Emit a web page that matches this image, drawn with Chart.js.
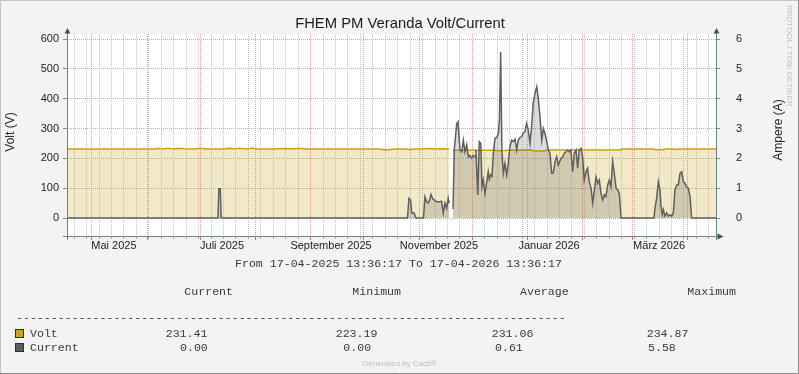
<!DOCTYPE html>
<html>
<head>
<meta charset="utf-8">
<title>FHEM PM Veranda Volt/Current</title>
<script src="https://cdn.jsdelivr.net/npm/chart.js@4.4.1/dist/chart.umd.min.js"></script>
<style>
  html, body { margin: 0; padding: 0; background: #f3f3f3; }
  canvas { display: block; }
</style>
</head>
<body>
<canvas id="myChart" width="799" height="374"></canvas>
<script>
// X values are days since 17-04-2025 13:36:17 (graph spans 365 days)
const monthStartDays = [14, 45, 75, 106, 137, 167, 198, 228, 259, 290, 318, 349]
const labelDays = [26.4, 87.2, 148.5, 209.2, 271.1, 333.0]
const labelNames = ['Mai 2025', 'Juli 2025', 'September 2025', 'November 2025', 'Januar 2026', 'März 2026']
const voltTicks = [0, 100, 200, 300, 400, 500, 600]
const ampTicks = [0, 1, 2, 3, 4, 5, 6]

// Current (A)
const currentDays = [
  0, 84.9, 85.4, 86.2, 86.7, 191.5, 192.3, 193.2, 193.9, 195.2,
  196.3, 200.5, 201.3, 202.2, 203.0, 203.9, 204.7, 205.8, 206.7, 207.4,
  208.7, 209.8, 210.7, 211.6, 212.6, 213.5, 214.4, 215.0, 216, 217.1,
  217.8, 219.2, 219.9, 221.0, 222.0, 222.9, 223.8, 224.8, 225.7, 226.6,
  227.6, 228.5, 229.5, 230.0, 231.0, 231.9, 232.7, 233.4, 234.1, 235.1,
  236.0, 236.9, 237.5, 238.3, 239.0, 239.8, 240.7, 241.7, 242.6, 243.2,
  243.9, 244.6, 245.4, 246.3, 247.3, 248.2, 249.1, 250.1, 251.0, 252.0,
  252.9, 253.8, 254.8, 255.7, 256.6, 257.6, 258.5, 259.4, 260.4, 261.3,
  262.2, 263.2, 264.2, 265.1, 266.0, 267.0, 267.9, 268.8, 269.8, 270.7,
  271.6, 272.6, 273.5, 274.5, 275.4, 276.3, 277.8, 278.8, 279.7, 280.6,
  281.6, 282.5, 283.4, 284.4, 285.3, 286.3, 287.2, 288.1, 289.1, 290.0,
  290.9, 291.9, 292.8, 293.7, 294.7, 295.7, 296.6, 297.5, 298.5, 299.4,
  300.3, 301.3, 302.2, 303.1, 304.1, 305.0, 305.9, 306.9, 307.8, 308.8,
  309.7, 310.6, 311.6, 330.1, 330.7, 331.6, 332.6, 333.5, 334.1, 334.8,
  335.4, 336.3, 337.3, 338.2, 339.1, 340.1, 341.0, 341.9, 342.9, 343.8,
  344.8, 345.7, 346.6, 347.6, 348.5, 349.4, 350.4, 351.3, 365
]
const currentAmps = [
  0, 0, 0.98, 0.98, 0, 0, 0.66, 0.6, 0.17, 0.17,
  0, 0, 0.71, 0.55, 0.5, 0.6, 0.79, 0.63, 0.6, 0.56,
  0.54, 0.55, 0.56, 0.17, 0.5, 0.33, 0.66, 0.5, null, 0.3,
  2.28, 3.17, 3.23, 2.28, 2.22, 2.61, 2.22, 2.45, 2.05, 2.1,
  2.0, 2.1, 2.05, 2.28, 0.77, 2.56, 2.5, 1.05, 1.27, 0.83,
  1.17, 1.55, 1.3, 1.45, 1.4, 2.17, 2.67, 2.7, 2.84, 3.3,
  5.56, 2.22, 1.5, 1.83, 1.44, 1.83, 2.39, 2.61, 2.56, 2.64,
  2.28, 2.61, 2.7, 2.73, 2.84, 2.9, 3.17, 2.95, 2.5, 3.06,
  3.85, 4.18, 4.4, 3.96, 3.4, 2.61, 3.0, 2.84, 2.56, 2.28,
  2.17, 1.5, 1.52, 1.89, 2.05, 1.78, 2.0, 2.05, 2.17, 2.22,
  2.28, 2.22, 2.28, 1.55, 2.17, 2.28, 1.67, 2.28, 2.33, 2.05,
  1.27, 1.55, 1.67, 1.22, 1.0, 0.49, 0.94, 1.38, 1.16, 1.27,
  0.83, 0.61, 0.78, 0.72, 1.11, 1.27, 1.05, 1.89, 1.5, 1.0,
  0.94, 0.83, 0, 0, 0.33, 0.66, 1.22, 0.94, 0.39, 0.11,
  0.28, 0.06, 0.17, 0.06, 0.11, 0.06, 0.17, 0.94, 1.11, 1.11,
  1.5, 1.55, 1.22, 1.16, 1.05, 1.0, 0.72, 0, 0
]

// Volt (V)
const voltDays = [
  0, 50, 52, 54, 57, 60, 63, 66, 72, 75,
  79, 88, 91, 94, 97, 100, 104, 108, 116, 123,
  126, 131, 134, 146, 175, 178, 181, 184, 190, 193,
  196, 200, 204, 208, 212, 215, 216, 217.1, 240, 244,
  248, 261, 263, 268, 270, 311, 312, 330, 331, 335,
  336, 341, 342, 343, 365
]
const voltValues = [
  231.4, 231.2, 233.5, 231.4, 233.8, 231.5, 233.6, 232.0, 231.3, 233.9,
  231.5, 231.6, 234.2, 232.0, 233.5, 231.4, 233.8, 231.5, 231.2, 233.4,
  231.3, 234.1, 231.5, 231.2, 231.0, 228.5, 229.2, 231.3, 231.5, 230.0,
  231.6, 231.2, 232.8, 231.4, 232.4, 231.2, null, 227.5, 227.0, 225.5,
  227.4, 227.6, 224.5, 224.8, 227.8, 228.0, 231.2, 231.4, 228.8, 229.0,
  231.3, 231.2, 229.0, 231.3, 231.4
]

// Legend table
const statHeaders = ['Current', 'Minimum', 'Average', 'Maximum']
const voltStats = ['231.41', '223.19', '231.06', '234.87']
const currentStats = ['0.00', '0.00', '0.61', '5.58']

const weekDays = []
for (let d = 4; d <= 365; d += 7) weekDays.push(d)

const sansFont = '"Liberation Sans", Arial, sans-serif'
const monoFont = '"Liberation Mono", "Courier New", monospace'

// Draws the rrdtool style frame, axes, title and the legend table
const rrdDecor = {
  id: 'rrdDecor',
  beforeDraw(chart) {
    const { ctx, chartArea: a } = chart
    ctx.save()
    ctx.fillStyle = '#f3f3f3'
    ctx.fillRect(0, 0, chart.width, chart.height)
    ctx.fillStyle = '#ffffff'
    ctx.fillRect(a.left, a.top, a.right - a.left, a.bottom - a.top)
    ctx.restore()
  },
  afterDraw(chart) {
    const { ctx, chartArea: a } = chart
    ctx.save()

    // outer frame
    ctx.lineWidth = 1
    ctx.strokeStyle = '#c4c4c4'
    ctx.beginPath()
    ctx.moveTo(0.5, 373); ctx.lineTo(0.5, 0.5); ctx.lineTo(798, 0.5)
    ctx.stroke()
    ctx.strokeStyle = '#8e8e8e'
    ctx.beginPath()
    ctx.moveTo(798.5, 0); ctx.lineTo(798.5, 373.5); ctx.lineTo(0, 373.5)
    ctx.stroke()

    // axes with arrows
    const axisColor = '#6a877d'
    ctx.strokeStyle = axisColor
    ctx.beginPath()
    ctx.moveTo(a.left + 0.5, a.bottom + 4); ctx.lineTo(a.left + 0.5, a.top - 1)
    ctx.moveTo(a.right + 0.5, a.bottom + 4); ctx.lineTo(a.right + 0.5, a.top - 1)
    ctx.moveTo(a.left - 4, a.bottom + 0.5); ctx.lineTo(a.right + 2, a.bottom + 0.5)
    ctx.stroke()
    ctx.fillStyle = '#2f5e50'
    const up = (x) => {
      ctx.beginPath()
      ctx.moveTo(x - 3, a.top - 0.5); ctx.lineTo(x + 3, a.top - 0.5); ctx.lineTo(x, a.top - 6)
      ctx.closePath(); ctx.fill()
    }
    up(a.left + 0.5)
    up(a.right + 0.5)
    ctx.beginPath()
    ctx.moveTo(a.right + 1.5, a.bottom - 2.5); ctx.lineTo(a.right + 1.5, a.bottom + 3.5); ctx.lineTo(a.right + 7.5, a.bottom + 0.5)
    ctx.closePath(); ctx.fill()

    // title
    ctx.fillStyle = '#1a1a1a'
    ctx.font = '14.8px ' + sansFont
    ctx.textAlign = 'center'
    ctx.textBaseline = 'alphabetic'
    ctx.fillText('FHEM PM Veranda Volt/Current', 400, 28.3)

    // axis titles
    ctx.font = '12px ' + sansFont
    ctx.fillStyle = '#222'
    ctx.textBaseline = 'middle'
    ctx.save()
    ctx.translate(11, 132)
    ctx.rotate(-Math.PI / 2)
    ctx.fillText('Volt (V)', 0, 0)
    ctx.restore()
    ctx.save()
    ctx.translate(778.5, 130)
    ctx.rotate(-Math.PI / 2)
    ctx.fillText('Ampere (A)', 0, 0)
    ctx.restore()

    // watermark
    ctx.save()
    ctx.translate(789, 5)
    ctx.rotate(Math.PI / 2)
    ctx.textAlign = 'left'
    ctx.font = '8px ' + sansFont
    ctx.fillStyle = '#c2c2c2'
    ctx.fillText('RRDTOOL / TOBI OETIKER', 0, 0)
    ctx.restore()

    // period line and legend table
    ctx.font = '11.6px ' + monoFont
    ctx.fillStyle = '#3a3a3a'
    ctx.textAlign = 'left'
    ctx.textBaseline = 'alphabetic'
    ctx.fillText('From 17-04-2025 13:36:17 To 17-04-2026 13:36:17', 235, 266.5)
    const headX = [184.3, 352.3, 520, 687.3]
    statHeaders.forEach((t, i) => ctx.fillText(t, headX[i], 295))
    ctx.fillText('-'.repeat(79), 16, 321)
    const voltX = [165.7, 335.7, 491.7, 646.7]
    const currX = [180, 343.3, 495, 648]
    ctx.fillText('Volt', 30, 336.5)
    voltStats.forEach((t, i) => ctx.fillText(t, voltX[i], 336.5))
    ctx.fillText('Current', 30, 350.5)
    currentStats.forEach((t, i) => ctx.fillText(t, currX[i], 350.5))

    // swatches
    ctx.strokeStyle = '#1f3a30'
    ctx.fillStyle = '#c9a20f'
    ctx.fillRect(15, 329, 9, 9)
    ctx.strokeRect(15.5, 329.5, 8, 8)
    ctx.fillStyle = '#5e5e5e'
    ctx.fillRect(15, 343, 9, 9)
    ctx.strokeRect(15.5, 343.5, 8, 8)

    // footer
    ctx.font = '8px ' + sansFont
    ctx.fillStyle = '#bdbdbd'
    ctx.textAlign = 'center'
    ctx.fillText('Generated by Cacti®', 399.5, 366)

    ctx.restore()
  }
}

const currentPoints = currentDays.map((d, i) => ({ x: d, y: currentAmps[i] }))
const voltPoints = voltDays.map((d, i) => ({ x: d, y: voltValues[i] }))

const tickFont = { family: sansFont, size: 11 }
const minorGrid = '#c6c6c6'
const majorGrid = '#e69a9a'

new Chart(document.getElementById('myChart'), {
  type: 'line',
  data: {
    datasets: [{
      label: 'Current',
      data: currentPoints,
      xAxisID: 'x',
      yAxisID: 'y1',
      borderColor: '#5f5f5f',
      borderWidth: 1.5,
      backgroundColor: 'rgba(80,80,80,0.2)',
      fill: 'origin',
      pointRadius: 0,
      tension: 0,
      spanGaps: false,
      order: 0
    }, {
      label: 'Volt',
      data: voltPoints,
      xAxisID: 'x',
      yAxisID: 'y',
      borderColor: '#c9a20f',
      borderWidth: 1.5,
      backgroundColor: 'rgba(200,161,20,0.23)',
      fill: 'origin',
      pointRadius: 0,
      tension: 0,
      spanGaps: false,
      order: 1
    }]
  },
  options: {
    responsive: false,
    animation: false,
    devicePixelRatio: 1,
    events: [],
    layout: { padding: { top: 34, left: 0, right: 0, bottom: 0 } },
    plugins: {
      legend: { display: false },
      tooltip: { enabled: false },
      title: { display: false }
    },
    scales: {
      xMinor: {
        type: 'linear', position: 'bottom', min: 0, max: 365,
        afterBuildTicks: s => { s.ticks = weekDays.map(v => ({ value: v })) },
        afterFit: s => { s.height = 0 },
        ticks: { display: false },
        grid: { color: minorGrid, lineWidth: 1, tickColor: '#a8a8a8', tickLength: 3, tickBorderDash: [] },
        border: { display: false, dash: [1, 1] }
      },
      xMajor: {
        type: 'linear', position: 'bottom', min: 0, max: 365,
        afterBuildTicks: s => { s.ticks = monthStartDays.map(v => ({ value: v })) },
        afterFit: s => { s.height = 0 },
        ticks: { display: false },
        grid: { color: majorGrid, lineWidth: 1, tickColor: '#b08080', tickLength: 4, tickBorderDash: [] },
        border: { display: false, dash: [1, 1] }
      },
      x: {
        type: 'linear', position: 'bottom', min: 0, max: 365,
        afterBuildTicks: s => { s.ticks = labelDays.map(v => ({ value: v })) },
        afterFit: s => { s.height = 138 },
        ticks: {
          autoSkip: false, maxRotation: 0, minRotation: 0, padding: 3,
          color: '#222', font: tickFont,
          callback: (v, i) => labelNames[i]
        },
        grid: { display: false, drawTicks: false },
        border: { display: false }
      },
      y: {
        position: 'left', min: -60.3, max: 616.8,
        afterBuildTicks: s => { s.ticks = voltTicks.map(v => ({ value: v })) },
        afterFit: s => { s.width = 67 },
        ticks: { color: '#222', font: tickFont, padding: 4 },
        grid: { color: majorGrid, lineWidth: 1, tickColor: '#888', tickLength: 4, tickBorderDash: [] },
        border: { display: false, dash: [1, 1] }
      },
      y1: {
        position: 'right', min: -0.603, max: 6.168,
        afterBuildTicks: s => { s.ticks = ampTicks.map(v => ({ value: v })) },
        afterFit: s => { s.width = 83 },
        ticks: { color: '#222', font: tickFont, padding: 16 },
        grid: { drawOnChartArea: false, tickColor: '#888', tickLength: 4, tickBorderDash: [] },
        border: { display: false }
      }
    }
  },
  plugins: [rrdDecor]
})
</script>
</body>
</html>
